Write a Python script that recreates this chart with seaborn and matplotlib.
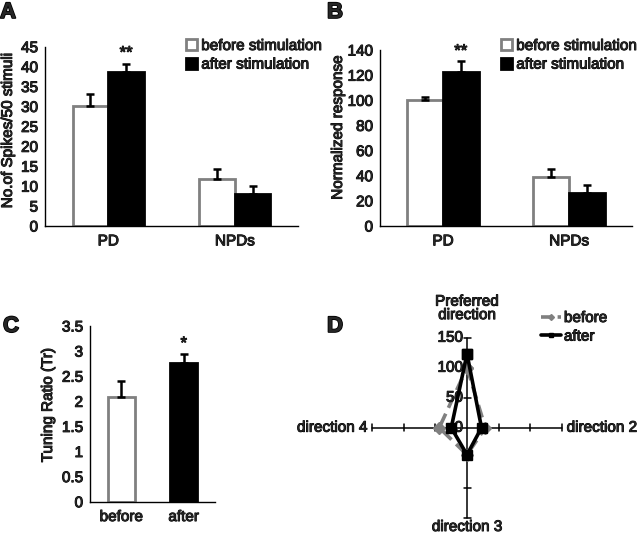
import numpy as np
import pandas as pd
import matplotlib
matplotlib.use("Agg")
import matplotlib.pyplot as plt
import matplotlib.patheffects as pe
import matplotlib.text as mtext
import seaborn as sns
from matplotlib.patches import Patch
from matplotlib.lines import Line2D
from matplotlib.ticker import FuncFormatter

# ---------------- data ----------------
groups = ["PD", "NPDs"]
conditions = ["before", "after"]
legend_labels = ["before stimulation", "after stimulation"]

spikes_before = [30.0, 11.8]
spikes_after = [38.6, 8.1]
spikes_err_before = [3.1, 2.6]
spikes_err_after = [2.1, 1.9]

norm_before = [100.5, 39.0]
norm_after = [122.8, 26.5]
norm_err_before = [1.8, 6.0]
norm_err_after = [8.5, 6.0]

tuning_labels = ["before", "after"]
tuning_values = [2.08, 2.77]
tuning_err = [0.32, 0.18]

directions = ["Preferred\ndirection", "direction 2", "direction 3", "direction 4"]
radar_before = [100, 29, 45, 44]
radar_after = [123, 23, 45, 25]
radar_ticks = [0, 50, 100, 150]

GRAY = "#808080"
FS = 11

sns.set_style("white")
plt.rcParams["font.family"] = ["Liberation Sans", "DejaVu Sans"]
plt.rcParams["font.size"] = FS

W, H = 640, 535
fig = plt.figure(figsize=(W / 100, H / 100), dpi=100)


def px_axes(x0, y0, x1, y1):
    return fig.add_axes([x0 / W, 1 - y1 / H, (x1 - x0) / W, (y1 - y0) / H])


def bar_panel(ax, before, after, eb, ea, ylim, step, ylabel, lab_xy, star_y):
    df = pd.DataFrame({
        "group": groups * 2,
        "cond": [conditions[0]] * 2 + [conditions[1]] * 2,
        "value": list(before) + list(after),
    })
    sns.barplot(data=df, x="group", y="value", hue="cond", order=groups,
                hue_order=conditions, palette={"before": "white", "after": "black"},
                width=0.565, errorbar=None, legend=False, ax=ax, saturation=1)
    errs = [eb, ea]
    containers = list(ax.containers)
    for ci, cont in enumerate(containers):
        xs, ys = [], []
        for p in cont.patches:
            p.set_edgecolor(GRAY if ci == 0 else "black")
            p.set_linewidth(2.0)
            xs.append(p.get_x() + p.get_width() / 2)
            ys.append(p.get_height())
        ax.errorbar(xs, ys, yerr=[np.zeros(len(xs)), errs[ci]], fmt="none",
                    ecolor="black", elinewidth=1.8, capsize=2.6, capthick=1.8, zorder=3)
        if ci == 1:
            ax.text(xs[0], star_y, "**", ha="center", va="center", fontsize=FS + 1)
    ax.set_xlim(-0.5, 1.5)
    ax.set_ylim(*ylim)
    ax.set_yticks(np.arange(ylim[0], ylim[1] + step / 2, step))
    ax.yaxis.set_major_formatter(FuncFormatter(lambda v, p: f"{v:g}"))
    ax.set_xticks([0, 1])
    ax.set_xticklabels(groups)
    ax.set_xticks([-0.5, 0.5, 1.5], minor=True)
    ax.tick_params(axis="x", which="major", length=0, pad=6, labelsize=FS)
    ax.tick_params(axis="x", which="minor", length=4, width=1, direction="out", color="black")
    ax.tick_params(axis="y", length=3, width=1, direction="out", pad=2, labelsize=FS, color="black")
    ax.set_xlabel("")
    ax.set_ylabel(ylabel, fontsize=FS)
    ax.yaxis.set_label_coords(*lab_xy)
    sns.despine(ax=ax)
    for s in ["left", "bottom"]:
        ax.spines[s].set_color("black")
        ax.spines[s].set_linewidth(1.0)


def bar_legend(x, y):
    handles = [Patch(facecolor="white", edgecolor=GRAY, linewidth=2.0),
               Patch(facecolor="black", edgecolor="black", linewidth=2.0)]
    fig.legend(handles, legend_labels, loc="upper left", bbox_to_anchor=(x / W, 1 - y / H),
               frameon=False, borderpad=0, borderaxespad=0, handlelength=0.7,
               handleheight=0.7, handletextpad=0.3, labelspacing=0.3,
               prop={"size": FS})


# ---------------- panel A ----------------
axA = px_axes(45, 46.7, 298, 226)
bar_panel(axA, spikes_before, spikes_after, spikes_err_before, spikes_err_after,
          (0, 45), 5, "No.of Spikes/50 stimuli", (-0.119, 0.53), 43.4)
bar_legend(186, 39)

# ---------------- panel B ----------------
axB = px_axes(380, 50, 632, 226)
bar_panel(axB, norm_before, norm_after, norm_err_before, norm_err_after,
          (0, 140), 20, "Normalized response", (-0.139, 0.557), 139)
bar_legend(501, 39)

# ---------------- panel C ----------------
axC = px_axes(90, 326, 215, 501.7)
dfc = pd.DataFrame({"cond": tuning_labels, "value": tuning_values})
sns.barplot(data=dfc, x="cond", y="value", hue="cond", order=tuning_labels,
            palette={"before": "white", "after": "black"}, width=0.43,
            errorbar=None, legend=False, ax=axC, saturation=1)
bars = sorted(axC.patches, key=lambda q: q.get_x())
xs = [p.get_x() + p.get_width() / 2 for p in bars]
ys = [p.get_height() for p in bars]
for i, p in enumerate(bars):
    p.set_edgecolor(GRAY if i == 0 else "black")
    p.set_linewidth(2.0)
axC.errorbar(xs, ys, yerr=[np.zeros(2), tuning_err], fmt="none", ecolor="black",
             elinewidth=1.8, capsize=2.6, capthick=1.8, zorder=3)
axC.text(xs[1], 3.15, "*", ha="center", va="center", fontsize=FS + 1)
axC.set_xlim(-0.5, 1.5)
axC.set_ylim(0, 3.5)
axC.set_yticks(np.arange(0, 3.51, 0.5))
axC.yaxis.set_major_formatter(FuncFormatter(lambda v, p: f"{v:g}"))
axC.set_xticks([0, 1])
axC.set_xticklabels(tuning_labels)
axC.set_xticks([-0.5, 0.5, 1.5], minor=True)
axC.tick_params(axis="x", which="major", length=0, pad=6, labelsize=FS)
axC.tick_params(axis="x", which="minor", length=4, width=1, direction="out", color="black")
axC.tick_params(axis="y", length=3, width=1, direction="out", pad=2, labelsize=FS, color="black")
axC.set_xlabel("")
axC.set_ylabel("Tuning Ratio (Tr)", fontsize=FS)
axC.yaxis.set_label_coords(-0.28, 0.55)
sns.despine(ax=axC)
for s in ["left", "bottom"]:
    axC.spines[s].set_color("black")
    axC.spines[s].set_linewidth(1.0)

# ---------------- panel D (radar) ----------------
cx, cy = 467, 427.7
sx, sy = 0.631, 0.6  # px per unit
axD = px_axes(300, 300, 640, 535)
axD.set_xlim((300 - cx) / sx, (640 - cx) / sx)
axD.set_ylim((cy - 535) / sy, (cy - 300) / sy)
axD.axis("off")
rmax = 150
axD.plot([-rmax, rmax], [0, 0], color="black", lw=1.1, zorder=1)
axD.plot([0, 0], [-rmax, rmax], color="black", lw=1.1, zorder=1)
tl_x, tl_y = 3.5 / sx, 3.5 / sy
for t in [50, 100, 150]:
    for sgn in (-1, 1):
        axD.plot([sgn * t, sgn * t], [-tl_y, tl_y], color="black", lw=1.1, zorder=1)
        axD.plot([-tl_x, tl_x], [sgn * t, sgn * t], color="black", lw=1.1, zorder=1)
for t in radar_ticks:
    axD.text(-4 / sx, t, f"{t}", ha="right", va="center", fontsize=FS)

angles = np.deg2rad([90, 0, -90, 180])


def closed_xy(vals):
    v = np.array(vals + vals[:1], dtype=float)
    a = np.concatenate([angles, angles[:1]])
    return v * np.cos(a), v * np.sin(a)


bx, by = closed_xy(radar_before)
axD.plot(bx, by, color=GRAY, lw=2.6, ls=(0, (3.6, 1.8)), marker="D", ms=6,
         mfc=GRAY, mec=GRAY, zorder=2)
ax_, ay_ = closed_xy(radar_after)
axD.plot(ax_, ay_, color="black", lw=2.6, marker="s", ms=6.5, mfc="black",
         mec="black", zorder=3)

axD.text(0, 176, directions[0], ha="center", va="bottom", fontsize=FS, linespacing=0.95)
axD.text(rmax + 5 / sx, 0, directions[1], ha="left", va="center", fontsize=FS)
axD.text(0, (cy - 527) / sy, directions[2], ha="center", va="center", fontsize=FS)
axD.text(-rmax - 5 / sx, 0, directions[3], ha="right", va="center", fontsize=FS)

handles = [Line2D([0], [0], color=GRAY, lw=2.6, ls=(0, (3.0, 1.6)), marker="D", ms=3,
                  mfc=GRAY, mec=GRAY),
           Line2D([0], [0], color="black", lw=2.6, marker="s", ms=3, mfc="black", mec="black")]
fig.legend(handles, conditions, loc="upper left", bbox_to_anchor=(541 / W, 1 - 311 / H),
           frameon=False, borderpad=0, borderaxespad=0, handlelength=1.3,
           handletextpad=0.2, labelspacing=0.3, prop={"size": FS})

# ---------------- panel letters ----------------
for lab, (x, y) in {"A": (0, 2), "B": (327, 2), "C": (3, 316), "D": (327, 316)}.items():
    fig.text(x / W, 1 - y / H, lab, ha="left", va="top", fontsize=16, fontweight="bold",
             path_effects=[pe.withStroke(linewidth=1.2, foreground="black")])

# slightly heavier strokes on text, like the reference rendering
fig.canvas.draw()
stroke = [pe.withStroke(linewidth=0.7, foreground="black")]
for ax in [axA, axB, axC]:
    for lab in ax.get_xticklabels() + ax.get_yticklabels():
        lab.set_path_effects(stroke)
for t in fig.findobj(mtext.Text):
    if t.get_text() and not t.get_path_effects():
        t.set_path_effects(stroke)

fig.savefig("out.png", dpi=100)
